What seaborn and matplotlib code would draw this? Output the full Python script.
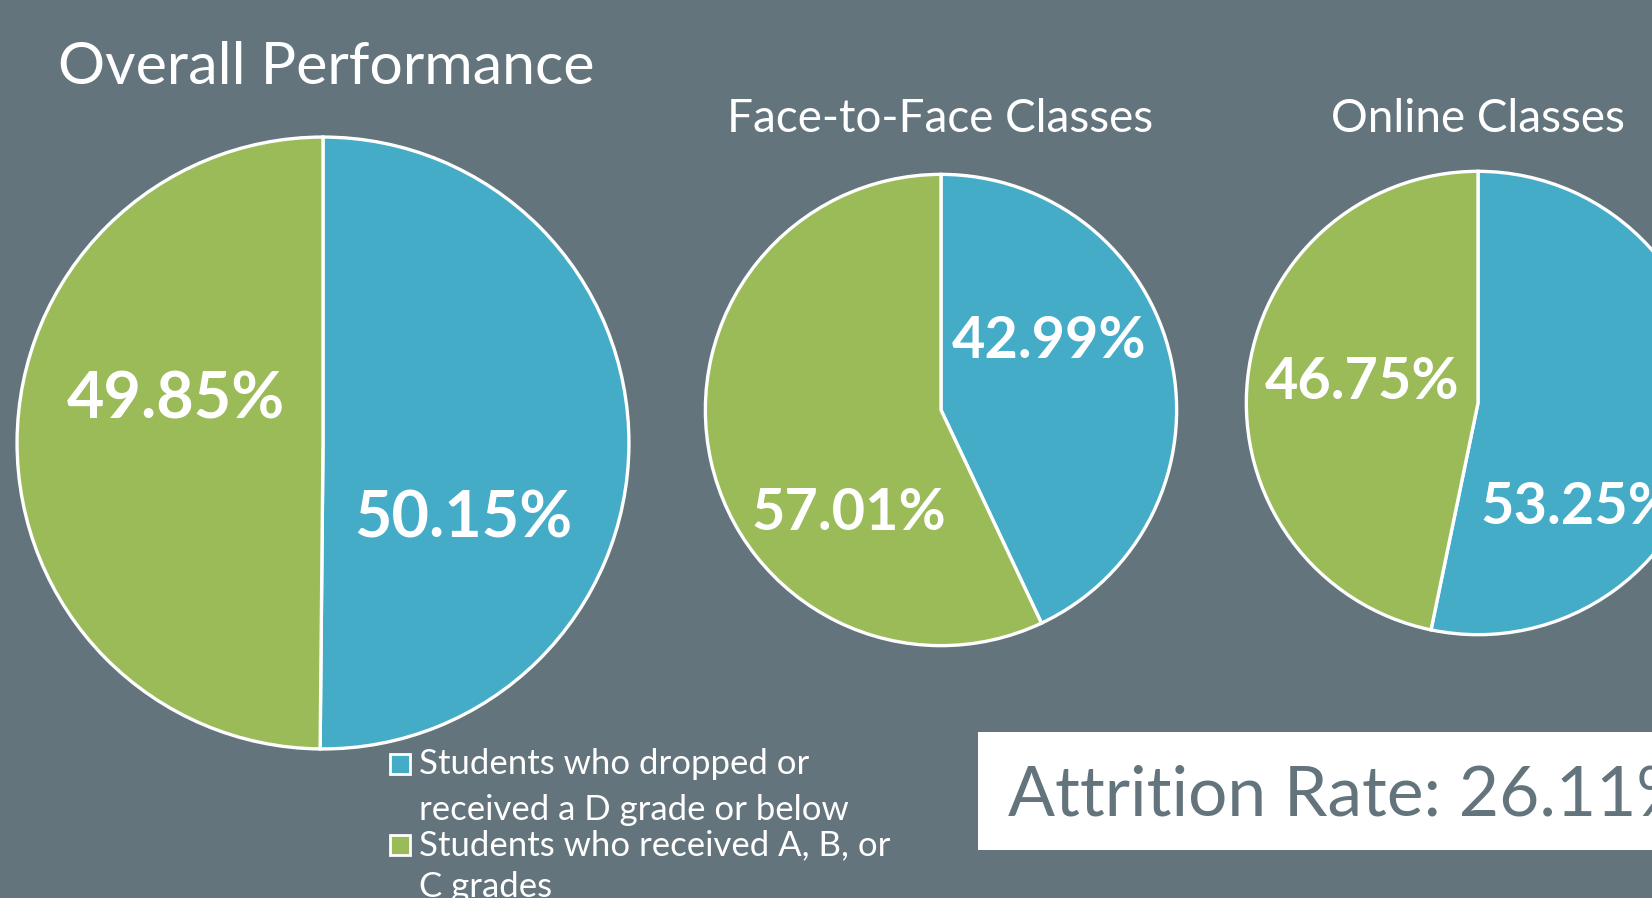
import matplotlib.pyplot as plt
import seaborn as sns
from matplotlib.patches import Rectangle

# data
categories = ['Students who dropped or\nreceived a D grade or below',
              'Students who received A, B, or\nC grades']
chart_titles = ['Overall Performance', 'Face-to-Face Classes', 'Online Classes']
overall = [50.15, 49.85]
face_to_face = [42.99, 57.01]
online = [53.25, 46.75]
attrition_rate = 26.11

bg = '#63747c'
colors = ['#45acc8', '#9bbb59']

sns.set_theme(style='white')
plt.rcParams['font.family'] = ['Lato', 'DejaVu Sans']

W, H = 1652, 898
fig = plt.figure(figsize=(W / 100, H / 100), dpi=100, facecolor=bg)


def px_axes(cx, cy, r):
    return fig.add_axes([(cx - r) / W, (H - cy - r) / H, 2 * r / W, 2 * r / H])


# pie centre, radius (pixels), label size, label offsets (in radius units)
layout = [
    (overall, 323, 443, 309, 46.5, [(0.46, -0.25), (-0.48, 0.14)]),
    (face_to_face, 941, 410, 238, 41.5, [(0.46, 0.29), (-0.39, -0.44)]),
    (online, 1478, 403, 234, 41.5, [(0.43, -0.45), (-0.5, 0.09)]),
]

for vals, cx, cy, r, fs, offs in layout:
    ax = px_axes(cx, cy, r)
    ax.set_facecolor('none')
    ax.pie(vals, colors=colors, startangle=90, counterclock=False, radius=1,
           wedgeprops=dict(edgecolor='white', linewidth=2.4))
    for v, (dx, dy) in zip(vals, offs):
        ax.text(dx, dy, f'{v:.2f}%', ha='center', va='center', color='white',
                fontsize=fs, fontweight='bold')
    ax.set_xlim(-1.01, 1.01)
    ax.set_ylim(-1.01, 1.01)
    ax.axis('off')

# titles
fig.text(58 / W, 1 - 84 / H, chart_titles[0], color='white', fontsize=42.5)
fig.text(727 / W, 1 - 132 / H, chart_titles[1], color='white', fontsize=33)
fig.text(1331 / W, 1 - 132 / H, chart_titles[2], color='white', fontsize=33)

# legend
baselines = [[774, 820], [855, 897]]
for lab, c, bl in zip(categories, colors, baselines):
    top = bl[0] - 20
    fig.add_artist(Rectangle((390 / W, 1 - (top + 20) / H), 20 / W, 20 / H,
                             transform=fig.transFigure, facecolor=c,
                             edgecolor='white', linewidth=2))
    for line, y in zip(lab.split('\n'), bl):
        fig.text(419 / W, 1 - y / H, line, color='white', fontsize=25,
                 va='baseline')

# attrition box
fig.add_artist(Rectangle((978 / W, 1 - 850 / H), 700 / W, 118 / H,
                         transform=fig.transFigure, facecolor='white',
                         edgecolor='none'))
fig.text(1008 / W, 1 - 815 / H, f'Attrition Rate: {attrition_rate:.2f}%',
         color=bg, fontsize=50)

fig.savefig('out.png', dpi=100, facecolor=bg)
